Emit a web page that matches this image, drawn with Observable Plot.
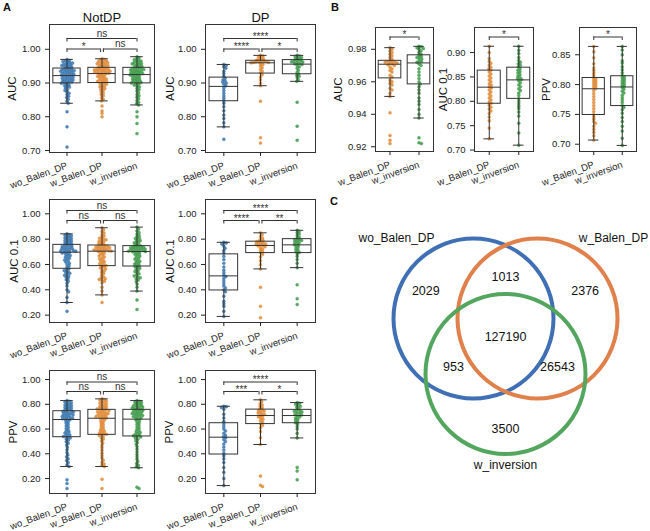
<!DOCTYPE html>
<html><head><meta charset="utf-8">
<script src="https://cdn.jsdelivr.net/npm/d3@7"></script>
<script src="https://cdn.jsdelivr.net/npm/@observablehq/plot@0.6"></script>
<style>
body{margin:0;background:#fff;}
#fig{position:relative;width:650px;height:531px;overflow:hidden;background:#fff;font-family:"Liberation Sans",Arial,sans-serif;}
#fig svg{position:absolute;}
.plab{position:absolute;font-weight:bold;font-size:11px;color:#111;}
</style></head><body>
<div id="fig">
<div class="plab" style="left:3px;top:1px">A</div>
<div class="plab" style="left:331px;top:1px">B</div>
<div class="plab" style="left:330px;top:195px">C</div>
</div>
<script>
const GROUPS = ["wo_Balen_DP", "w_Balen_DP", "w_inversion"];
const COLORS = ["#3a76ae", "#e08a36", "#3f9b4a"];

// ---------- Panel A : NotDP AUC ----------
const auc_notdp_wo = [.970,.967,.965,.964,.962,.960,.959,.957,.956,.955,.953,.952,.950,.949,.947,.946,.943,
 .941,.940,.940,.938,.937,.936,.935,.934,.933,.931,.930,.929,.927,.926,.925,.924,.923,
 .921,.920,.918,.917,.915,.914,.913,.911,.910,.909,.907,.906,.905,.903,.902,.901,.899,
 .897,.895,.893,.890,.888,.885,.881,.878,.874,.870,.866,.861,.857,.852,.846,.840,
 .815,.770,.710];
const auc_notdp_wb = [.972,.970,.968,.966,.964,.963,.961,.960,.958,.957,.955,.954,.952,.951,.949,.948,.946,
 .944,.943,.942,.941,.940,.939,.938,.937,.936,.935,.934,.933,.932,.931,.930,.929,.928,
 .927,.925,.923,.921,.920,.918,.916,.914,.912,.910,.909,.907,.905,.904,.902,.900,
 .898,.896,.893,.891,.889,.886,.884,.881,.878,.874,.870,.866,.862,.857,.852,.847,
 .832,.817,.810,.800];
const auc_notdp_wi = [.978,.974,.971,.969,.967,.965,.963,.961,.960,.958,.957,.955,.953,.952,.950,.948,.946,
 .944,.943,.942,.941,.940,.939,.937,.936,.935,.934,.932,.931,.930,.929,.928,.926,.925,
 .924,.922,.921,.919,.917,.915,.913,.912,.910,.908,.906,.905,.903,.902,.900,.899,
 .897,.894,.891,.888,.884,.880,.876,.871,.866,.862,.858,.853,.848,.843,.839,.835,
 .815,.800,.780,.750];
// box stats: [lower whisker, q1, median, q3, upper whisker]
const auc_notdp_box = [[.840,.899,.922,.943,.970],[.847,.900,.928,.945,.972],[.835,.899,.925,.945,.978]];
const auc_notdp_sig = ["ns", "*", "ns"];

// ---------- Panel A : DP AUC ----------
const auc_dp_wo = [.955,.952,.948,.944,.935,.928,.920,.914,.910,.906,.903,.900,.896,.892,
 .885,.878,.870,.862,.855,.848,.840,.830,.818,.805,.795,.782,.770,.733];
const auc_dp_wb = [.982,.980,.978,.975,.972,.970,.968,.966,.965,.964,.963,.962,.961,.961,.960,
 .958,.955,.950,.945,.940,.935,.930,.925,.918,.910,.900,.892,.846,.738,.722];
const auc_dp_wi = [.982,.980,.978,.976,.974,.972,.970,.967,.966,.964,.963,.962,.960,.958,.957,
 .955,.952,.948,.944,.938,.932,.927,.923,.920,.916,.910,.905,.843,.772,.730];
const auc_dp_box = [[.770,.846,.890,.916,.955],[.892,.928,.960,.966,.982],[.905,.926,.956,.968,.982]];
const auc_dp_sig = ["****", "****", "*"];

// ---------- Panel A : NotDP AUC 0.1 ----------
const auc01_notdp_wo = [.842,.835,.830,.826,.820,.815,.810,.805,.800,.796,.790,.785,.780,.776,.770,.765,.758,
 .753,.750,.746,.742,.739,.735,.731,.727,.724,.720,.716,.713,.710,.707,.704,.701,.698,
 .695,.690,.684,.678,.671,.665,.658,.650,.643,.635,.627,.619,.610,.600,.590,.579,.567,
 .560,.553,.545,.538,.530,.522,.515,.508,.500,.490,.480,.468,.452,.430,.400,.385,.340,.300,.230];
const auc01_notdp_wb = [.890,.875,.860,.848,.835,.825,.815,.808,.800,.795,.790,.784,.778,.772,.766,.760,.754,
 .749,.746,.744,.741,.738,.735,.732,.729,.726,.723,.720,.717,.715,.712,.710,.708,.706,
 .702,.697,.690,.683,.675,.667,.660,.652,.644,.636,.628,.620,.612,.605,.598,.592,.588,
 .580,.572,.565,.556,.547,.538,.528,.515,.502,.494,.488,.481,.475,.468,.455,.420,.390,.360,.300];
const auc01_notdp_wi = [.895,.880,.865,.852,.840,.830,.820,.812,.805,.798,.790,.783,.776,.770,.763,.756,.749,
 .744,.742,.739,.736,.733,.731,.728,.725,.722,.720,.717,.714,.711,.709,.707,.705,.703,
 .700,.694,.688,.681,.674,.666,.658,.650,.642,.634,.626,.618,.610,.603,.596,.590,.585,
 .578,.570,.562,.553,.545,.536,.527,.518,.510,.502,.495,.487,.478,.465,.445,.420,.390,.320,.245];
const auc01_notdp_box = [[.300,.566,.697,.755,.842],[.360,.587,.705,.750,.890],[.390,.584,.702,.745,.895]];
const auc01_notdp_sig = ["ns", "ns", "ns"];

// ---------- Panel A : DP AUC 0.1 ----------
const auc01_dp_wo = [.775,.770,.762,.745,.728,.710,.690,.665,.640,.610,.580,.555,.535,.515,
 .505,.490,.470,.450,.430,.415,.400,.385,.350,.310,.290,.270,.230,.190];
const auc01_dp_wb = [.850,.835,.820,.808,.798,.790,.784,.778,.775,.770,.766,.762,.758,.755,.752,
 .747,.740,.732,.722,.712,.702,.693,.680,.660,.630,.600,.565,.420,.270,.180];
const auc01_dp_wi = [.870,.860,.850,.840,.828,.815,.805,.798,.795,.790,.785,.778,.772,.765,.758,
 .750,.742,.732,.722,.712,.703,.695,.685,.665,.640,.610,.575,.440,.330,.285];
const auc01_dp_box = [[.190,.395,.510,.680,.775],[.565,.690,.750,.780,.850],[.575,.690,.755,.800,.870]];
const auc01_dp_sig = ["****", "****", "**"];

// ---------- Panel A : NotDP PPV ----------
const ppv_notdp_wo = [.830,.824,.818,.812,.806,.800,.795,.790,.785,.780,.775,.770,.765,.760,.755,.750,.746,
 .742,.738,.734,.730,.726,.722,.718,.714,.710,.706,.702,.698,.694,.690,.686,.683,.679,
 .674,.665,.656,.646,.636,.626,.615,.604,.594,.584,.576,.568,.560,.552,.545,.540,.535,
 .528,.520,.510,.498,.485,.470,.452,.432,.410,.392,.375,.360,.345,.330,.310,.297,.190,.160,.120];
const ppv_notdp_wb = [.844,.838,.832,.826,.820,.814,.808,.802,.796,.790,.785,.780,.775,.770,.766,.762,.757,
 .753,.749,.745,.741,.737,.733,.729,.725,.721,.717,.713,.709,.705,.701,.697,.693,.689,
 .684,.676,.667,.658,.648,.638,.628,.618,.608,.598,.590,.582,.575,.568,.562,.557,.554,
 .548,.540,.530,.518,.504,.488,.470,.450,.428,.405,.385,.365,.348,.330,.318,.305,.297,.195,.120];
const ppv_notdp_wi = [.830,.825,.820,.815,.810,.805,.800,.795,.790,.786,.782,.778,.773,.769,.765,.761,.757,
 .753,.749,.745,.741,.737,.733,.729,.725,.721,.717,.713,.709,.705,.700,.695,.690,.684,
 .676,.667,.658,.648,.638,.628,.618,.608,.598,.588,.580,.572,.565,.558,.551,.546,.541,
 .535,.527,.518,.506,.492,.476,.458,.438,.416,.395,.375,.356,.338,.322,.308,.296,.287,.130,.120];
const ppv_notdp_box = [[.297,.534,.677,.744,.830],[.297,.553,.687,.755,.844],[.287,.540,.680,.755,.830]];
const ppv_notdp_sig = ["ns", "ns", "ns"];

// ---------- Panel A : DP PPV ----------
const ppv_dp_wo = [.784,.780,.775,.760,.720,.690,.660,.640,.620,.600,.585,.565,.550,.538,
 .530,.515,.500,.480,.455,.430,.405,.385,.360,.330,.290,.250,.200,.143];
const ppv_dp_wb = [.836,.820,.805,.795,.785,.775,.765,.755,.750,.745,.738,.730,.724,.718,.712,
 .705,.698,.690,.680,.668,.655,.642,.630,.610,.580,.530,.475,.220,.145,.135];
const ppv_dp_wi = [.814,.808,.800,.792,.785,.776,.765,.752,.748,.744,.738,.732,.726,.720,.714,
 .705,.698,.690,.680,.670,.660,.650,.640,.620,.600,.565,.528,.290,.260,.190];
const ppv_dp_box = [[.143,.394,.534,.647,.784],[.475,.640,.709,.757,.836],[.528,.647,.709,.755,.814]];
const ppv_dp_sig = ["****", "***", "*"];

// ---------- Panel B ----------
const b_auc_wb = [.981,.980,.979,.978,.977,.976,.975,.974,.9728,.9726,.9724,.9722,.9720,.9716,.9712,.9709,
 .9705,.970,.969,.968,.967,.966,.964,.963,.961,.960,.959,.958,.956,.955,.953,.951,.941,.927,.924,.922];
const b_auc_wi = [.9818,.9815,.981,.9805,.980,.979,.978,.977,.976,.9755,.975,.9745,.974,.973,.9725,.972,
 .971,.970,.968,.966,.964,.962,.960,.9587,.957,.955,.953,.950,.948,.946,.943,.940,.9377,.9255,.9225,.922];
const b_auc_box = [[.951,.9621,.9708,.9729,.981],[.9377,.9584,.9716,.9763,.9818]];
const b_auc01_wb = [.913,.900,.888,.882,.878,.874,.870,.867,.864,.860,.856,.852,.848,.844,.840,.836,.833,.830,
 .827,.823,.819,.815,.811,.807,.803,.799,.796,.792,.788,.784,.780,.775,.768,.760,.745,.723];
const b_auc01_wi = [.913,.905,.898,.890,.884,.880,.877,.874,.871,.867,.864,.861,.858,.855,.852,.849,.847,.845,
 .842,.838,.834,.830,.826,.822,.817,.812,.806,.800,.795,.790,.785,.778,.770,.755,.735,.710];
const b_auc01_box = [[.723,.795,.829,.863,.913],[.710,.805,.844,.869,.913]];
const b_ppv_wb = [.864,.855,.845,.835,.828,.824,.820,.816,.812,.810,.808,.806,.804,.802,.800,.798,.796,.794,
 .790,.785,.780,.775,.770,.765,.760,.755,.750,.746,.742,.738,.735,.730,.725,.720,.714,.707];
const b_ppv_wi = [.864,.858,.850,.840,.836,.830,.825,.820,.815,.813,.811,.809,.807,.805,.803,.801,.799,.797,
 .795,.792,.789,.786,.782,.778,.774,.770,.765,.762,.758,.752,.745,.738,.730,.722,.710,.698];
const b_ppv_box = [[.707,.749,.793,.811,.864],[.698,.764,.796,.814,.864]];
const b_sig = ["*"];

// ---------- Panel C : Venn ----------
const vennSets = ["wo_Balen_DP", "w_Balen_DP", "w_inversion"];
const vennRegions = [[0], [1], [2], [0,1], [0,2], [1,2], [0,1,2]];
const vennCounts = [2029, 2376, 3500, 1013, 953, 26543, 127190];
const VENN_COLORS = ["#3f6fb4", "#e0804b", "#52a65d"];

// ================= drawing =================
const FONT = "Liberation Sans, Arial, sans-serif";
const INK = "#333";
const fig = document.getElementById("fig");

function swarm(vals, toPx, sep, maxOff) {
  const order = vals.map((v, i) => i).sort((a, b) => vals[b] - vals[a]);
  const placed = [], offs = new Array(vals.length).fill(0);
  for (const i of order) {
    const y = toPx(vals[i]);
    const near = placed.filter(p => Math.abs(p.y - y) < sep);
    let best = 0, bestD = -1;
    for (let k = 0; ; k++) {
      const off = (k % 2 ? 1 : -1) * Math.ceil(k / 2) * 0.4;
      if (Math.abs(off) > maxOff) break;
      let dmin = Infinity;
      for (const p of near) dmin = Math.min(dmin, Math.hypot(p.x - off, p.y - y));
      if (dmin >= sep) { best = off; break; }
      if (dmin > bestD) { bestD = dmin; best = off; }
    }
    placed.push({x: best, y});
    offs[i] = best;
  }
  return offs;
}

function panel(cfg) {
  const {fx0, fx1, fy0, fy1, ydom, yticks, ylabel, ylabelDx, title, cats, series, boxes, sigs, levels} = cfg;
  const ML = 46, MR = 6, MT = 22, MB = 44;
  const fw = fx1 - fx0, fh = fy1 - fy0;
  const n = cats.length;
  const unit = fw / n;
  const dpp = (ydom[1] - ydom[0]) / fh;
  const pts = [];
  series.forEach((vals, k) => {
    const offs = swarm(vals, v => v / dpp, 2.3, unit * 0.36);
    vals.forEach((v, i) => pts.push({x: k + 1 + offs[i] / unit, y: v, c: COLORS[cats[k]]}));
  });
  const bx = boxes.map((b, k) => ({x: k + 1, lo: b[0], q1: b[1], med: b[2], q3: b[3], hi: b[4]}));
  const half = 0.39, cap = 0.18;
  const br = [];
  if (n === 3) {
    br.push({a: 1, b: 3, s: sigs[0], y: ydom[1] - levels[0] * dpp});
    br.push({a: 1, b: 1.96, s: sigs[1], y: ydom[1] - levels[1] * dpp});
    br.push({a: 2.04, b: 3, s: sigs[2], y: ydom[1] - levels[1] * dpp});
  } else {
    br.push({a: 1, b: 2, s: sigs[0], y: ydom[1] - levels[0] * dpp});
  }
  const tk = 3.5 * dpp;
  const marks = [
    Plot.dot(pts, {x: "x", y: "y", r: 1.5, fill: "c", fillOpacity: 0.85, stroke: "c", strokeWidth: 0.4}),
    Plot.ruleX(bx, {x: "x", y1: "lo", y2: "q1", stroke: INK, strokeWidth: 1}),
    Plot.ruleX(bx, {x: "x", y1: "q3", y2: "hi", stroke: INK, strokeWidth: 1}),
    Plot.ruleY(bx, {y: "lo", x1: d => d.x - cap, x2: d => d.x + cap, stroke: INK, strokeWidth: 1}),
    Plot.ruleY(bx, {y: "hi", x1: d => d.x - cap, x2: d => d.x + cap, stroke: INK, strokeWidth: 1}),
    Plot.rect(bx, {x1: d => d.x - half, x2: d => d.x + half, y1: "q1", y2: "q3", fill: "none", stroke: INK, strokeWidth: 1}),
    Plot.ruleY(bx, {y: "med", x1: d => d.x - half, x2: d => d.x + half, stroke: INK, strokeWidth: 1}),
    Plot.ruleY(br, {y: "y", x1: "a", x2: "b", stroke: INK, strokeWidth: 1}),
    Plot.ruleX(br, {x: "a", y1: "y", y2: d => d.y - tk, stroke: INK, strokeWidth: 1}),
    Plot.ruleX(br, {x: "b", y1: "y", y2: d => d.y - tk, stroke: INK, strokeWidth: 1}),
    Plot.text(br.filter(d => !d.s.includes("*")), {x: d => (d.a + d.b) / 2, y: "y", text: "s", dy: -5, fontSize: 10, fill: INK}),
    Plot.text(br.filter(d => d.s.includes("*")), {x: d => (d.a + d.b) / 2, y: "y", text: "s", dy: -2, fontSize: 10, fill: INK}),
    Plot.frame({stroke: INK, strokeWidth: 1}),
    Plot.axisY({ticks: yticks, tickFormat: d3.format(".2f"), tickSize: 4, fontSize: 9.5, label: null, color: "#222"}),
    Plot.axisX({ticks: d3.range(1, n + 1), tickFormat: i => GROUPS[cats[i - 1]], tickRotate: -20, tickSize: 4, fontSize: 9.5, label: null, color: "#222"}),
    Plot.text([ylabel], {text: d => d, frameAnchor: "left", dx: ylabelDx, rotate: -90, fontSize: 11.5, textAnchor: "middle", lineAnchor: "middle", fill: "#111"})
  ];
  if (title) marks.push(Plot.text([title], {text: d => d, frameAnchor: "top", dy: -7, fontSize: 13, lineAnchor: "middle", fill: "#111"}));
  const svg = Plot.plot({
    width: fw + ML + MR, height: fh + MT + MB,
    marginLeft: ML, marginRight: MR, marginTop: MT, marginBottom: MB,
    x: {domain: [0.5, n + 0.5]}, y: {domain: ydom},
    style: {background: "transparent", fontFamily: FONT, overflow: "visible"},
    marks
  });
  svg.style.left = (fx0 - ML) + "px";
  svg.style.top = (fy0 - MT) + "px";
  fig.appendChild(svg);
}

const A_L = [49, 154], A_R = [205, 315];
const row1 = {fy0: 24, fy1: 152, ydom: [0.694, 1.0735], yticks: [0.7, 0.8, 0.9, 1.0], ylabel: "AUC", levels: [14, 24.5]};
const row2 = {fy0: 199, fy1: 322, ydom: [0.142, 1.113], yticks: [0.2, 0.4, 0.6, 0.8, 1.0], ylabel: "AUC 0.1", levels: [11, 21]};
const row3 = {fy0: 370, fy1: 493, ydom: [0.079, 1.073], yticks: [0.2, 0.4, 0.6, 0.8, 1.0], ylabel: "PPV", levels: [11.5, 21]};

panel({...row1, fx0: A_L[0], fx1: A_L[1], ylabelDx: -37, title: "NotDP", cats: [0,1,2], series: [auc_notdp_wo, auc_notdp_wb, auc_notdp_wi], boxes: auc_notdp_box, sigs: auc_notdp_sig});
panel({...row1, fx0: A_R[0], fx1: A_R[1], ylabelDx: -35, title: "DP", cats: [0,1,2], series: [auc_dp_wo, auc_dp_wb, auc_dp_wi], boxes: auc_dp_box, sigs: auc_dp_sig});
panel({...row2, fx0: A_L[0], fx1: A_L[1], ylabelDx: -35, cats: [0,1,2], series: [auc01_notdp_wo, auc01_notdp_wb, auc01_notdp_wi], boxes: auc01_notdp_box, sigs: auc01_notdp_sig});
panel({...row2, fx0: A_R[0], fx1: A_R[1], ylabelDx: -35, cats: [0,1,2], series: [auc01_dp_wo, auc01_dp_wb, auc01_dp_wi], boxes: auc01_dp_box, sigs: auc01_dp_sig});
panel({...row3, fx0: A_L[0], fx1: A_L[1], ylabelDx: -36, cats: [0,1,2], series: [ppv_notdp_wo, ppv_notdp_wb, ppv_notdp_wi], boxes: ppv_notdp_box, sigs: ppv_notdp_sig});
panel({...row3, fx0: A_R[0], fx1: A_R[1], ylabelDx: -36, cats: [0,1,2], series: [ppv_dp_wo, ppv_dp_wb, ppv_dp_wi], boxes: ppv_dp_box, sigs: ppv_dp_sig});

panel({fx0: 375, fx1: 433, fy0: 27, fy1: 151, ydom: [0.9171, 0.9934], yticks: [0.92, 0.94, 0.96, 0.98], ylabel: "AUC", ylabelDx: -37, cats: [1,2], series: [b_auc_wb, b_auc_wi], boxes: b_auc_box, sigs: b_sig, levels: [9.5]});
panel({fx0: 474, fx1: 533, fy0: 27, fy1: 151, ydom: [0.697, 0.9515], yticks: [0.70, 0.75, 0.80, 0.85, 0.90], ylabel: "AUC 0.1", ylabelDx: -31, cats: [1,2], series: [b_auc01_wb, b_auc01_wi], boxes: b_auc01_box, sigs: b_sig, levels: [9.5]});
panel({fx0: 579, fx1: 636, fy0: 27, fy1: 151, ydom: [0.6878, 0.8957], yticks: [0.70, 0.75, 0.80, 0.85], ylabel: "PPV", ylabelDx: -33, cats: [1,2], series: [b_ppv_wb, b_ppv_wi], boxes: b_ppv_box, sigs: b_sig, levels: [9.5]});

// Venn layout (pixel geometry)
{
  const cx = 505, cy = 336.5, d = 64, R = 80;
  const centers = [
    {x: cx - d / 2, y: cy - d * Math.sqrt(3) / 6},
    {x: cx + d / 2, y: cy - d * Math.sqrt(3) / 6},
    {x: cx, y: cy + d * Math.sqrt(3) / 3}
  ];
  const dirs = centers.map(c => { const dx = c.x - cx, dy = c.y - cy, L = Math.hypot(dx, dy); return {x: dx / L, y: dy / L}; });
  const circles = centers.map((c, i) => ({...c, c: VENN_COLORS[i]}));
  const regionPos = vennRegions.map((r, i) => {
    let p;
    if (r.length === 1) p = {x: cx + dirs[r[0]].x * 92, y: cy + dirs[r[0]].y * 92};
    else if (r.length === 2) { const k = [0,1,2].find(j => !r.includes(j)); p = {x: cx - dirs[k].x * 60, y: cy - dirs[k].y * 60}; }
    else p = {x: cx, y: cy};
    return {...p, t: String(vennCounts[i])};
  });
  const setPos = [
    {x: centers[0].x - 77, y: centers[0].y - R, t: vennSets[0]},
    {x: centers[1].x + 76, y: centers[1].y - R, t: vennSets[1]},
    {x: centers[2].x, y: centers[2].y + R + 11, t: vennSets[2]}
  ];
  const svg = Plot.plot({
    width: 650, height: 531, margin: 0,
    x: {type: "identity", axis: null}, y: {type: "identity", axis: null},
    style: {background: "transparent", fontFamily: FONT},
    marks: [
      Plot.dot(circles, {x: "x", y: "y", r: R, stroke: "c", strokeWidth: 4, fill: "none"}),
      Plot.text(regionPos, {x: "x", y: "y", text: "t", fontSize: 12.5, fill: "#111"}),
      Plot.text(setPos, {x: "x", y: "y", text: "t", fontSize: 12, fill: "#111"})
    ]
  });
  svg.style.left = "0px"; svg.style.top = "0px";
  fig.appendChild(svg);
}
</script>
</body></html>
